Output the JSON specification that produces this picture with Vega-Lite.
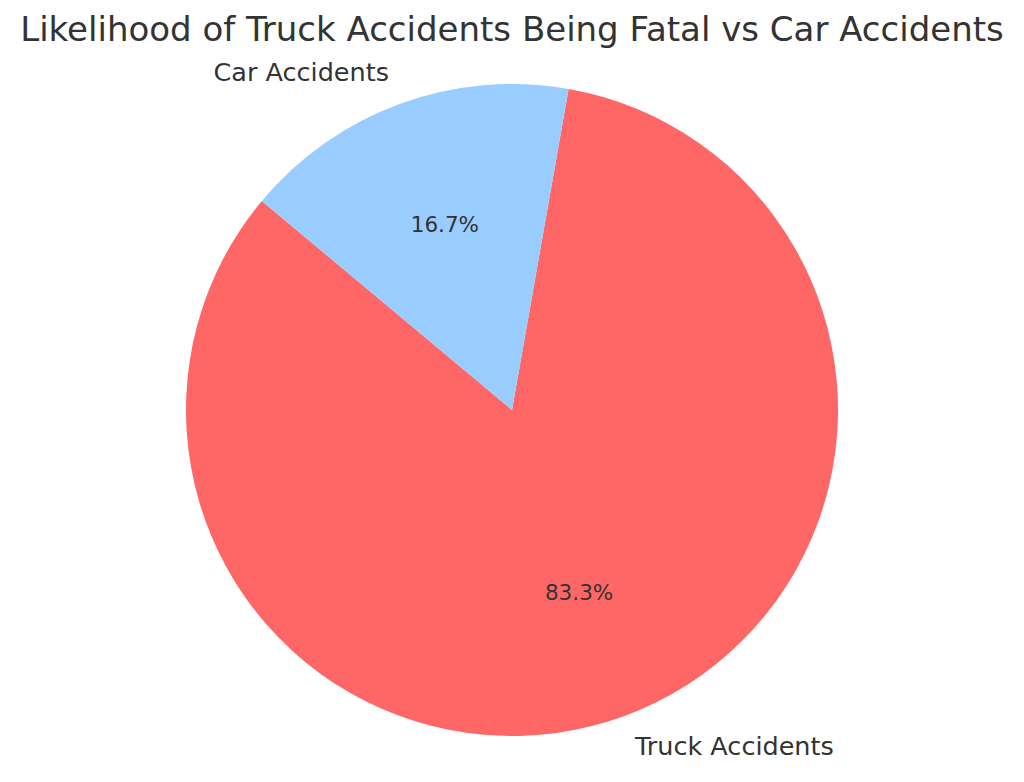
{
  "$schema": "https://vega.github.io/schema/vega-lite/v6.json",
  "autosize": "none",
  "width": 1024,
  "height": 700,
  "padding": {"left": 0, "top": 60, "right": 0, "bottom": 22},
  "background": "white",
  "title": {
    "text": "Likelihood of Truck Accidents Being Fatal vs Car Accidents",
    "font": "DejaVu Sans",
    "fontSize": 34,
    "fontWeight": "normal",
    "color": "#333333",
    "anchor": "middle",
    "offset": 12
  },
  "data": {
    "values": [
      {"category": "Truck Accidents", "share": 83.3, "label": "83.3%"},
      {"category": "Car Accidents", "share": 16.7, "label": "16.7%"}
    ]
  },
  "encoding": {
    "theta": {
      "field": "share",
      "type": "quantitative",
      "stack": true,
      "scale": {"range": [0.174533, 6.457718]}
    },
    "order": {"field": "share", "sort": "descending"}
  },
  "layer": [
    {
      "mark": {"type": "arc", "outerRadius": 326},
      "encoding": {
        "color": {
          "field": "category",
          "type": "nominal",
          "scale": {
            "domain": ["Truck Accidents", "Car Accidents"],
            "range": ["#ff6666", "#99ccff"]
          },
          "legend": null
        }
      }
    },
    {
      "mark": {
        "type": "text",
        "radius": 195.6,
        "font": "DejaVu Sans",
        "fontSize": 21.5,
        "color": "#333333"
      },
      "encoding": {"text": {"field": "label"}}
    },
    {
      "mark": {
        "type": "text",
        "radius": 358.6,
        "align": "right",
        "baseline": "middle",
        "font": "DejaVu Sans",
        "fontSize": 25.5,
        "color": "#333333"
      },
      "encoding": {
        "text": {
          "condition": {"test": "datum.category == 'Car Accidents'", "field": "category"},
          "value": ""
        }
      }
    },
    {
      "mark": {
        "type": "text",
        "radius": 358.6,
        "align": "left",
        "baseline": "middle",
        "font": "DejaVu Sans",
        "fontSize": 25.5,
        "color": "#333333"
      },
      "encoding": {
        "text": {
          "condition": {"test": "datum.category == 'Truck Accidents'", "field": "category"},
          "value": ""
        }
      }
    }
  ],
  "config": {"view": {"stroke": null}}
}
